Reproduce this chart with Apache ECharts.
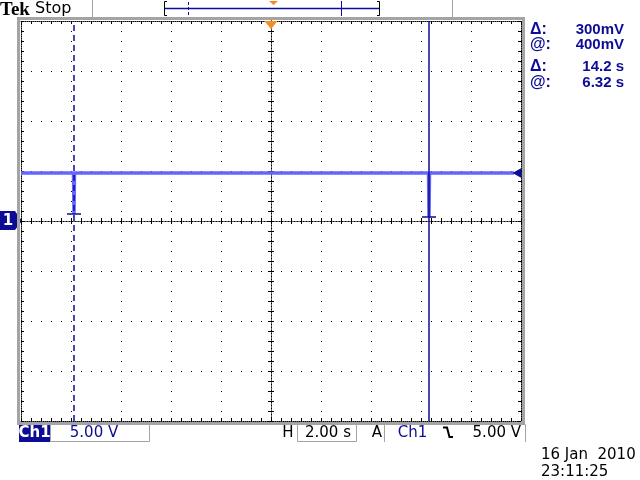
<!DOCTYPE html>
<html>
<head>
<meta charset="utf-8">
<script src="https://cdn.jsdelivr.net/npm/echarts@6/dist/echarts.min.js"></script>
<style>
  html, body { margin: 0; padding: 0; background: #fff; }
  #scope { width: 640px; height: 480px; }
</style>
</head>
<body>
<div id="scope"></div>
<script>
// trace samples (time in s, level in V)
const traceTime = [-10, -7.9, -7.88, -7.86, 6.3, 6.32, 6.34, 9.72];
const traceVolt = [4.8, 4.8, 0.7, 4.8, 4.8, 0.4, 4.8, 4.8];

// cursors
const cursorTime = [-7.88, 6.32];
const cursorVolt = [0.7, 0.4];
const triggerTime = 0;
const levelVolt = 4.8;

// readouts
const readLabels = ['Δ:', '@:', 'Δ:', '@:'];
const readValues = ['300mV', '400mV', '14.2 s', '6.32 s'];
const dateLines = ['16 Jan  2010', '23:11:25'];

const NAVY = '#0c0c96';
const TRACE = '#6666ff';
const ORANGE = '#f78c1e';

const chart = echarts.init(document.getElementById('scope'), null, { renderer: 'canvas' });

function edgeAxis(extra) {
  return Object.assign({
    type: 'value',
    axisLabel: { show: false },
    axisLine: { show: true, onZero: false, lineStyle: { color: '#000', width: 1, type: [1, 1] } },
    axisTick: { show: true, inside: true, length: 3, lineStyle: { color: '#000' } },
    minorTick: { show: true, splitNumber: 5, length: 3, lineStyle: { color: '#000' } },
    splitLine: { show: false }
  }, extra);
}

const xBase = { min: -10, max: 10, interval: 2 };
const yBase = { min: -20, max: 20, interval: 5 };
const grid = { left: 21, top: 21, width: 500, height: 400 };
const centerLine = { show: true, onZero: true, lineStyle: { color: '#000', type: [1, 2] } };

// trace points
const traceData = traceTime.map((t, i) => [t, traceVolt[i]]);

// cursor marks
const cursorLines = [
  { xAxis: cursorTime[0], lineStyle: { type: [6, 4] } },
  { xAxis: cursorTime[1], lineStyle: { type: 'solid' } }
];
cursorTime.forEach((t, i) => {
  cursorLines.push([
    { coord: [t - 0.28, cursorVolt[i]] },
    { coord: [t + 0.28, cursorVolt[i]] }
  ]);
});

const option = {
  animation: false,
  backgroundColor: '#fff',
  grid: grid,
  xAxis: [
    edgeAxis(Object.assign({ position: 'bottom',
      splitLine: { show: true, lineStyle: { color: '#000', width: 1, type: [1, 9] } } }, xBase)),
    edgeAxis(Object.assign({ position: 'top' }, xBase)),
    edgeAxis(Object.assign({ position: 'bottom', axisLine: centerLine,
      axisTick: { show: true, inside: true, length: 3, lineStyle: { color: '#000' } } }, xBase)),
    edgeAxis(Object.assign({ position: 'bottom', axisLine: centerLine,
      axisTick: { show: true, inside: false, length: 3, lineStyle: { color: '#000' } } }, xBase))
  ],
  yAxis: [
    edgeAxis(Object.assign({ position: 'left',
      splitLine: { show: true, lineStyle: { color: '#000', width: 1, type: [1, 9] } } }, yBase)),
    edgeAxis(Object.assign({ position: 'right' }, yBase)),
    edgeAxis(Object.assign({ position: 'left', axisLine: centerLine,
      axisTick: { show: true, inside: true, length: 3, lineStyle: { color: '#000' } } }, yBase)),
    edgeAxis(Object.assign({ position: 'left', axisLine: centerLine,
      axisTick: { show: true, inside: false, length: 3, lineStyle: { color: '#000' } } }, yBase))
  ],
  series: [
    {
      type: 'line',
      xAxisIndex: 0,
      yAxisIndex: 0,
      data: traceData,
      showSymbol: false,
      silent: true,
      lineStyle: { color: TRACE, width: 3.5 },
      markLine: {
        silent: true,
        symbol: 'none',
        label: { show: false },
        lineStyle: { color: NAVY, width: 1.5, type: 'solid' },
        data: cursorLines
      },
      markPoint: {
        silent: true,
        label: { show: false },
        data: [
          { coord: [triggerTime, yBase.max], symbol: 'triangle', symbolRotate: 180,
            symbolSize: [13, 8], symbolOffset: [0, 4], itemStyle: { color: ORANGE } },
          { coord: [xBase.max, levelVolt], symbol: 'path://M0,5 L10,0 L10,10 Z',
            symbolSize: [9, 10], symbolOffset: [-4, 0], itemStyle: { color: NAVY } }
        ]
      }
    }
  ],
  graphic: [
    // grey bezel around graticule
    { type: 'rect', shape: { x: 18.5, y: 18.5, width: 505, height: 405 },
      style: { fill: 'none', stroke: '#a4a4a4', lineWidth: 3 }, z: 1 },
    // header
    { type: 'text', x: 0, y: 10, style: { text: 'Tek', fill: '#000',
      font: 'bold 19px "Liberation Serif"', textVerticalAlign: 'middle' } },
    { type: 'text', x: 35, y: 9, style: { text: 'Stop', fill: '#000',
      font: '16px "DejaVu Sans"', textVerticalAlign: 'middle' } },
    { type: 'line', shape: { x1: 92.5, y1: 0, x2: 92.5, y2: 17 }, style: { stroke: '#a4a4a4', lineWidth: 1 } },
    { type: 'line', shape: { x1: 452.5, y1: 0, x2: 452.5, y2: 17 }, style: { stroke: '#a4a4a4', lineWidth: 1 } },
    // record bar
    { type: 'polyline', shape: { points: [[167, 1.5], [164.5, 1.5], [164.5, 15.5], [167, 15.5]] },
      style: { stroke: '#000', lineWidth: 1, fill: 'none' } },
    { type: 'polyline', shape: { points: [[377, 1.5], [379.5, 1.5], [379.5, 15.5], [377, 15.5]] },
      style: { stroke: '#000', lineWidth: 1, fill: 'none' } },
    { type: 'line', shape: { x1: 165, y1: 8.5, x2: 379, y2: 8.5 }, style: { stroke: NAVY, lineWidth: 1.5 } },
    { type: 'line', shape: { x1: 188.5, y1: 2, x2: 188.5, y2: 15 }, style: { stroke: NAVY, lineWidth: 1, lineDash: [3, 2] } },
    { type: 'line', shape: { x1: 341.5, y1: 1, x2: 341.5, y2: 16 }, style: { stroke: NAVY, lineWidth: 1 } },
    { type: 'polygon', shape: { points: [[269, 1], [278, 1], [273.5, 5]] }, style: { fill: ORANGE } },
    // channel ground marker
    { type: 'polygon', shape: { points: [[0, 211], [15, 211], [22, 221], [15, 230], [0, 230]] },
      style: { fill: NAVY } },
    { type: 'text', x: 8, y: 221, style: { text: '1', fill: '#fff', font: 'bold 15px "DejaVu Sans"',
      textAlign: 'center', textVerticalAlign: 'middle' } },
    // cursor readouts
    ...readLabels.map((s, i) => ({ type: 'text', x: 530, y: [30, 45, 67, 83][i],
      style: { text: s, fill: NAVY, font: 'bold 16px "Liberation Sans"', textVerticalAlign: 'middle' } })),
    ...readValues.map((s, i) => ({ type: 'text', x: 624, y: [30, 45, 67, 83][i],
      style: { text: s, fill: NAVY, font: 'bold 15px "Liberation Sans"', textAlign: 'right', textVerticalAlign: 'middle' } })),
    // bottom status bar
    { type: 'rect', shape: { x: 19, y: 425, width: 31, height: 17 }, style: { fill: NAVY } },
    { type: 'text', x: 34.5, y: 433.5, style: { text: 'Ch1', fill: '#fff', font: 'bold 15px "DejaVu Sans"',
      textAlign: 'center', textVerticalAlign: 'middle' } },
    { type: 'rect', shape: { x: 50.5, y: 424.5, width: 99, height: 17 }, style: { fill: 'none', stroke: '#a4a4a4', lineWidth: 1 } },
    { type: 'text', x: 94, y: 433.5, style: { text: '5.00 V', fill: NAVY, font: '15px "DejaVu Sans"',
      textAlign: 'center', textVerticalAlign: 'middle' } },
    { type: 'text', x: 288, y: 433.5, style: { text: 'H', fill: '#000', font: '15px "DejaVu Sans"',
      textAlign: 'center', textVerticalAlign: 'middle' } },
    { type: 'rect', shape: { x: 297.5, y: 424.5, width: 59, height: 17 }, style: { fill: 'none', stroke: '#a4a4a4', lineWidth: 1 } },
    { type: 'text', x: 328, y: 433.5, style: { text: '2.00 s', fill: '#000', font: '15px "DejaVu Sans"',
      textAlign: 'center', textVerticalAlign: 'middle' } },
    { type: 'text', x: 377, y: 433.5, style: { text: 'A', fill: '#000', font: '15px "DejaVu Sans"',
      textAlign: 'center', textVerticalAlign: 'middle' } },
    { type: 'polyline', shape: { points: [[384.5, 442], [384.5, 424.5], [525.5, 424.5], [525.5, 442]] },
      style: { fill: 'none', stroke: '#a4a4a4', lineWidth: 1 } },
    { type: 'text', x: 412.5, y: 433.5, style: { text: 'Ch1', fill: NAVY, font: '15px "DejaVu Sans"',
      textAlign: 'center', textVerticalAlign: 'middle' } },
    { type: 'polyline', shape: { points: [[443, 427.5], [447, 427.5], [449.5, 437], [453, 437]] },
      style: { fill: 'none', stroke: '#000', lineWidth: 2 } },
    { type: 'text', x: 521, y: 433.5, style: { text: '5.00 V', fill: '#000', font: '15px "DejaVu Sans"',
      textAlign: 'right', textVerticalAlign: 'middle' } },
    // date / time
    ...dateLines.map((s, i) => ({ type: 'text', x: 541, y: [455, 472][i],
      style: { text: s, fill: '#000', font: '15px "DejaVu Sans"', textVerticalAlign: 'middle' } }))
  ]
};

chart.setOption(option);
</script>
</body>
</html>
